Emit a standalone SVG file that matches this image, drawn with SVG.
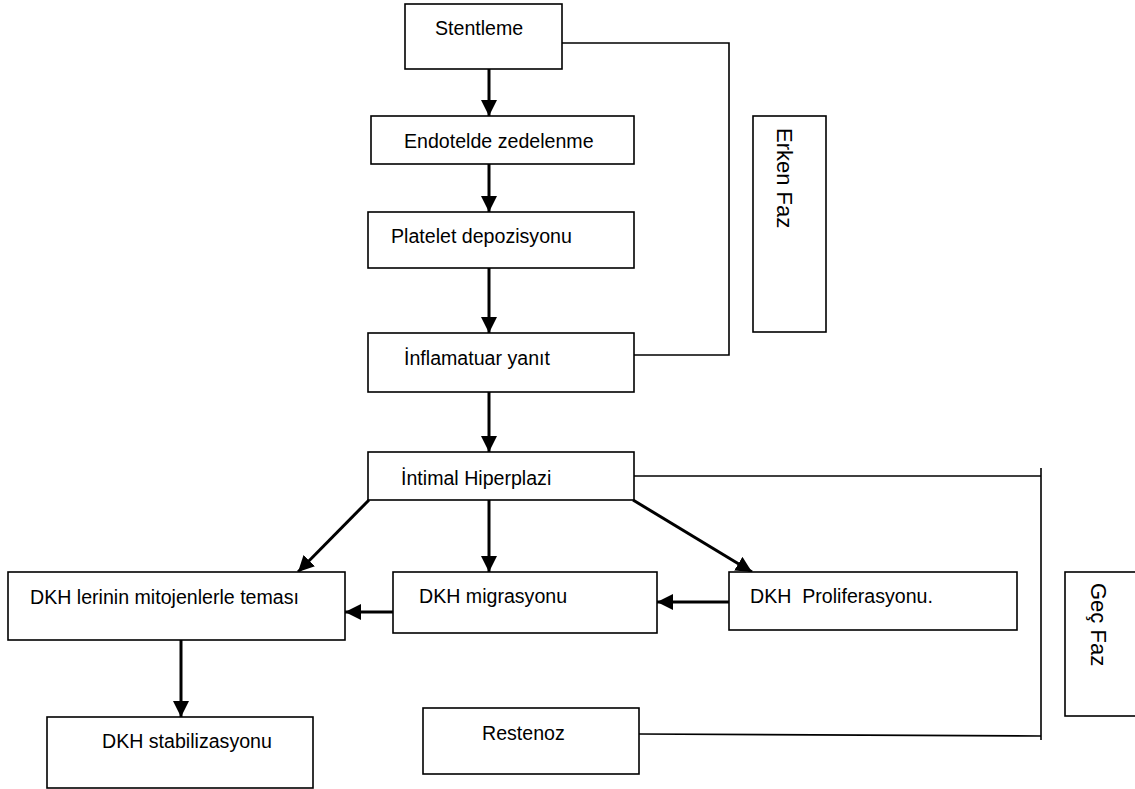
<svg xmlns="http://www.w3.org/2000/svg" width="1135" height="789" viewBox="0 0 1135 789">
<style>
.box{fill:#fff;stroke:#000;stroke-width:1.6}
.t{font-family:"Liberation Sans",Arial,sans-serif;font-size:19.6px;fill:#000}
.side{font-family:"Liberation Sans",Arial,sans-serif;font-size:22px;fill:#000}
.arr{stroke:#000;stroke-width:3;fill:none;marker-end:url(#ah)}
.ln{stroke:#000;stroke-width:1.6;fill:none}
</style>
<defs>
<marker id="ah" markerUnits="userSpaceOnUse" markerWidth="18" markerHeight="16" refX="16" refY="8" orient="auto">
<path d="M0,0 L16,8 L0,16 Z" fill="#000"/>
</marker>
</defs>
<rect width="1135" height="789" fill="#fff"/>
<g id="connectors">
<polyline class="ln" points="562,43 729,43 729,355 634,355"/>
<polyline class="ln" points="634,476 1041,476"/>
<line class="ln" x1="1041" y1="468" x2="1041" y2="740"/>
<polyline class="ln" points="639,734 1041,736"/>
<line class="arr" x1="489" y1="69" x2="489" y2="116"/>
<line class="arr" x1="489" y1="164" x2="489" y2="212"/>
<line class="arr" x1="489" y1="268" x2="489" y2="333"/>
<line class="arr" x1="489" y1="381" x2="489" y2="452"/>
<line class="arr" x1="369" y1="500" x2="298" y2="572"/>
<line class="arr" x1="489" y1="500" x2="489" y2="572"/>
<line class="arr" x1="633" y1="500" x2="752" y2="572"/>
<line class="arr" x1="729" y1="602" x2="657" y2="602"/>
<line class="arr" x1="393" y1="612" x2="345" y2="612"/>
<line class="arr" x1="181" y1="640" x2="181" y2="717"/>
</g>
<g id="n-stentleme"><rect class="box" x="405" y="4" width="157" height="65"/><text class="t" x="435" y="35">Stentleme</text></g>
<g id="n-endotelde"><rect class="box" x="371" y="116" width="263" height="48"/><text class="t" x="404" y="148">Endotelde zedelenme</text></g>
<g id="n-platelet"><rect class="box" x="368" y="212" width="266" height="56"/><text class="t" x="391" y="243">Platelet depozisyonu</text></g>
<g id="n-inflamatuar"><rect class="box" x="368" y="333" width="266" height="59"/><text class="t" x="404" y="365">İnflamatuar yanıt</text></g>
<g id="n-intimal"><rect class="box" x="368" y="452" width="266" height="48"/><text class="t" x="401" y="485">İntimal Hiperplazi</text></g>
<g id="n-erken"><rect class="box" x="753" y="116" width="73" height="216"/><text class="side" transform="translate(777,128) rotate(90)">Erken Faz</text></g>
<g id="n-gec"><rect class="box" x="1065" y="572" width="75" height="144"/><text class="side" transform="translate(1091,583) rotate(90)">Geç Faz</text></g>
<g id="n-temas"><rect class="box" x="8" y="572" width="337" height="68"/><text class="t" x="30" y="604">DKH lerinin mitojenlerle teması</text></g>
<g id="n-migrasyon"><rect class="box" x="393" y="572" width="264" height="61"/><text class="t" x="419" y="603">DKH migrasyonu</text></g>
<g id="n-proliferasyon"><rect class="box" x="729" y="572" width="288" height="58"/><text class="t" x="750" y="603" xml:space="preserve">DKH  Proliferasyonu.</text></g>
<g id="n-stabilizasyon"><rect class="box" x="47" y="717" width="266" height="71"/><text class="t" x="102" y="748">DKH stabilizasyonu</text></g>
<g id="n-restenoz"><rect class="box" x="423" y="708" width="216" height="66"/><text class="t" x="482" y="740">Restenoz</text></g>
</svg>
